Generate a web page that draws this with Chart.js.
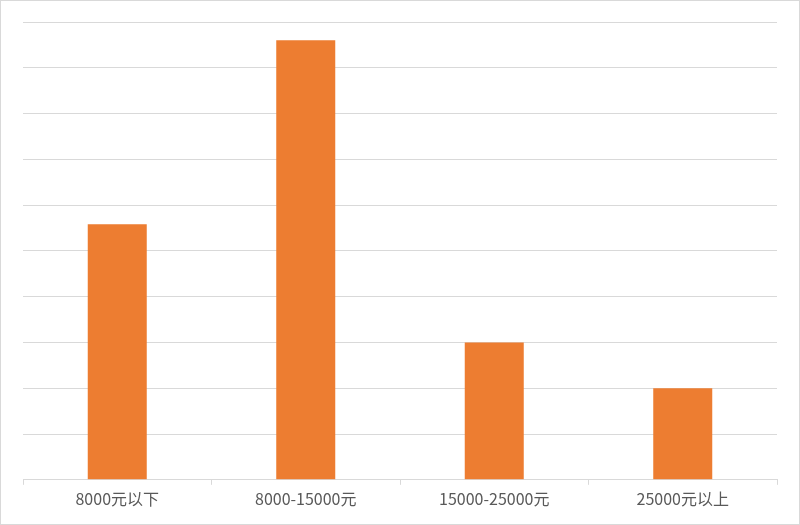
<!DOCTYPE html>
<html>
<head>
<meta charset="utf-8">
<script src="https://cdn.jsdelivr.net/npm/chart.js@4/dist/chart.umd.min.js"></script>
<style>
  html, body { margin: 0; padding: 0; background: #fff; }
  #frame { width: 800px; height: 525px; box-sizing: border-box; border: 1px solid #d9d9d9; }
  #chart { display: block; }
</style>
</head>
<body>
<div id="frame"><canvas id="chart" width="798" height="523"></canvas></div>
<script>
// 价格区间 / 数值（无纵轴标签，按网格估读）
const categories = ['8000元以下', '8000-15000元', '15000-25000元', '25000元以上'];
const values = [27.9, 48, 15, 10];
const yMax = 50;
const yStep = 5;

const ctx = document.getElementById('chart').getContext('2d');
new Chart(ctx, {
  type: 'bar',
  data: {
    labels: categories,
    datasets: [{
      data: values,
      backgroundColor: '#ED7D31',
      borderWidth: 0,
      categoryPercentage: 1,
      barPercentage: 0.313
    }]
  },
  options: {
    responsive: false,
    animation: false,
    layout: { padding: { left: 22, right: 22, top: 21, bottom: 10 } },
    plugins: { legend: { display: false }, tooltip: { enabled: false } },
    scales: {
      x: {
        offset: true,
        grid: { drawOnChartArea: false, drawTicks: true, tickLength: 5, color: '#d9d9d9', offset: true },
        border: { display: true, color: '#d9d9d9', width: 1 },
        ticks: { color: '#595959', font: { family: '"Noto Sans CJK SC", "Noto Sans", sans-serif', size: 16 }, padding: 5 }
      },
      y: {
        min: 0,
        max: yMax,
        afterFit: s => { s.width = 0; },
        ticks: { stepSize: yStep, display: false },
        grid: { color: '#d9d9d9', lineWidth: 1, drawTicks: false },
        border: { display: false }
      }
    }
  }
});
</script>
</body>
</html>
